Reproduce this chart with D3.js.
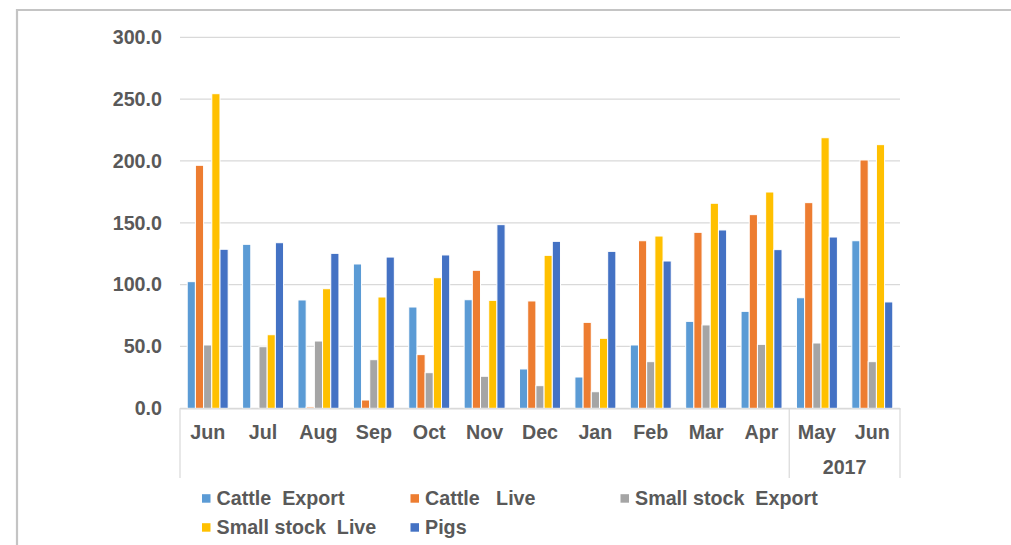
<!DOCTYPE html>
<html>
<head>
<meta charset="utf-8">
<script src="https://cdn.jsdelivr.net/npm/d3@7"></script>
<style>
  html, body { margin: 0; padding: 0; background: #fff; }
  svg { display: block; }
  text { font-family: "Liberation Sans", Arial, sans-serif; font-weight: bold; fill: #595959; }
</style>
</head>
<body>
<svg id="chart" width="1011" height="545"></svg>
<script>
const months = ["Jun","Jul","Aug","Sep","Oct","Nov","Dec","Jan","Feb","Mar","Apr","May","Jun"];
const seriesNames = ["Cattle  Export","Cattle   Live","Small stock  Export","Small stock  Live","Pigs"];
const cattleExport = [102.4,132.6,87.6,116.7,81.9,87.8,31.8,25.3,51.2,70.3,78.4,89.4,135.5];
const cattleLive   = [196.5,0,1.1,6.7,43.4,111.6,86.8,69.5,135.5,142.3,156.6,166.3,200.8];
const smallExport  = [51.2,49.8,54.4,39.3,28.8,25.9,18.3,13.4,37.7,67.4,51.7,52.8,37.7];
const smallLive    = [254.4,59.5,96.7,90.0,105.6,87.3,123.7,56.6,139.3,165.8,174.9,218.8,213.2];
const pigs         = [128.6,133.9,125.3,122.3,124.0,148.5,135.0,126.9,119.1,144.2,128.3,138.5,86.0];
const yTicks = [0,50,100,150,200,250,300];
const yearLabel = "2017";
const yearStart = 11, yearEnd = 12;

const colors = ["#5B9BD5","#ED7D31","#A5A5A5","#FFC000","#4472C4"];
const seriesValues = [cattleExport, cattleLive, smallExport, smallLive, pigs];

const svg = d3.select("#chart");
const gridColor = "#d9d9d9";
const fontSize = 19.7;

// outer frame (top & left borders)
svg.append("path")
  .attr("d", "M17,545 L17,10 L1011,10")
  .attr("fill", "none").attr("stroke", "#c4c4c4").attr("stroke-width", 2.2);

const plotLeft = 180, plotRight = 900, yBottom = 408.3, yTop = 37.3;

const x0 = d3.scaleBand().domain(d3.range(months.length)).range([plotLeft, plotRight]).paddingInner(0).paddingOuter(0);
const x1 = d3.scaleBand().domain(d3.range(seriesNames.length)).range([0, x0.bandwidth()]).paddingInner(0).paddingOuter(0.88);
const y = d3.scaleLinear().domain([0, 300]).range([yBottom, yTop]);

// gridlines
svg.append("g").selectAll("line").data(yTicks).join("line")
  .attr("x1", plotLeft).attr("x2", plotRight)
  .attr("y1", d => y(d)).attr("y2", d => y(d))
  .attr("stroke", gridColor).attr("stroke-width", 1.2);

// y axis labels
const yAxis = d3.axisLeft(y).tickValues(yTicks).tickFormat(d3.format(".1f")).tickSize(0).tickPadding(0);
const gy = svg.append("g").attr("transform", "translate(162,0)").call(yAxis);
gy.select(".domain").remove();
gy.selectAll("text").attr("font-size", fontSize).attr("fill", "#595959")
  .style("font-family", '"Liberation Sans", Arial, sans-serif').style("font-weight", "bold");

// bars
const groups = svg.append("g").selectAll("g").data(d3.range(months.length)).join("g")
  .attr("transform", i => `translate(${x0(i)},0)`);
groups.selectAll("rect")
  .data(i => seriesValues.map((arr, s) => ({ s, v: arr[i] })).filter(d => d.v > 0))
  .join("rect")
  .attr("x", d => x1(d.s))
  .attr("width", x1.bandwidth())
  .attr("y", d => y(d.v))
  .attr("height", d => yBottom - y(d.v))
  .attr("fill", d => colors[d.s])
  .attr("stroke", "#fff").attr("stroke-width", 1);

// x axis
const xAxis = d3.axisBottom(x0).tickFormat(i => months[i]).tickSize(0).tickPadding(17);
const gx = svg.append("g").attr("transform", `translate(0,${yBottom})`).call(xAxis);
gx.select(".domain").attr("stroke", gridColor).attr("stroke-width", 1.2);
gx.selectAll("text").attr("font-size", fontSize).attr("fill", "#595959")
  .style("font-family", '"Liberation Sans", Arial, sans-serif').style("font-weight", "bold");

// category separators
const sepX = [plotLeft, x0(yearStart), plotRight];
svg.append("g").selectAll("line").data(sepX).join("line")
  .attr("x1", d => d).attr("x2", d => d)
  .attr("y1", yBottom).attr("y2", 478)
  .attr("stroke", gridColor).attr("stroke-width", 1.2);

// year label
svg.append("text")
  .attr("x", (x0(yearStart) + x0(yearEnd) + x0.bandwidth()) / 2)
  .attr("y", 467.5)
  .attr("dy", "0.35em")
  .attr("text-anchor", "middle")
  .attr("font-size", fontSize)
  .text(yearLabel);

// legend
const legendPos = [
  { x: 202, y: 498.5 }, { x: 410.5, y: 498.5 }, { x: 620.5, y: 498.5 },
  { x: 202, y: 527.5 }, { x: 410.5, y: 527.5 }
];
const lg = svg.append("g").selectAll("g").data(seriesNames).join("g")
  .attr("transform", (d, i) => `translate(${legendPos[i].x},${legendPos[i].y})`);
lg.append("rect").attr("x", 0).attr("y", -4.3).attr("width", 8.5).attr("height", 8.5)
  .attr("fill", (d, i) => colors[i]);
lg.append("text").attr("x", 14.5).attr("dy", "0.35em")
  .attr("font-size", fontSize).style("white-space", "pre").attr("xml:space", "preserve")
  .text(d => d);
</script>
</body>
</html>
